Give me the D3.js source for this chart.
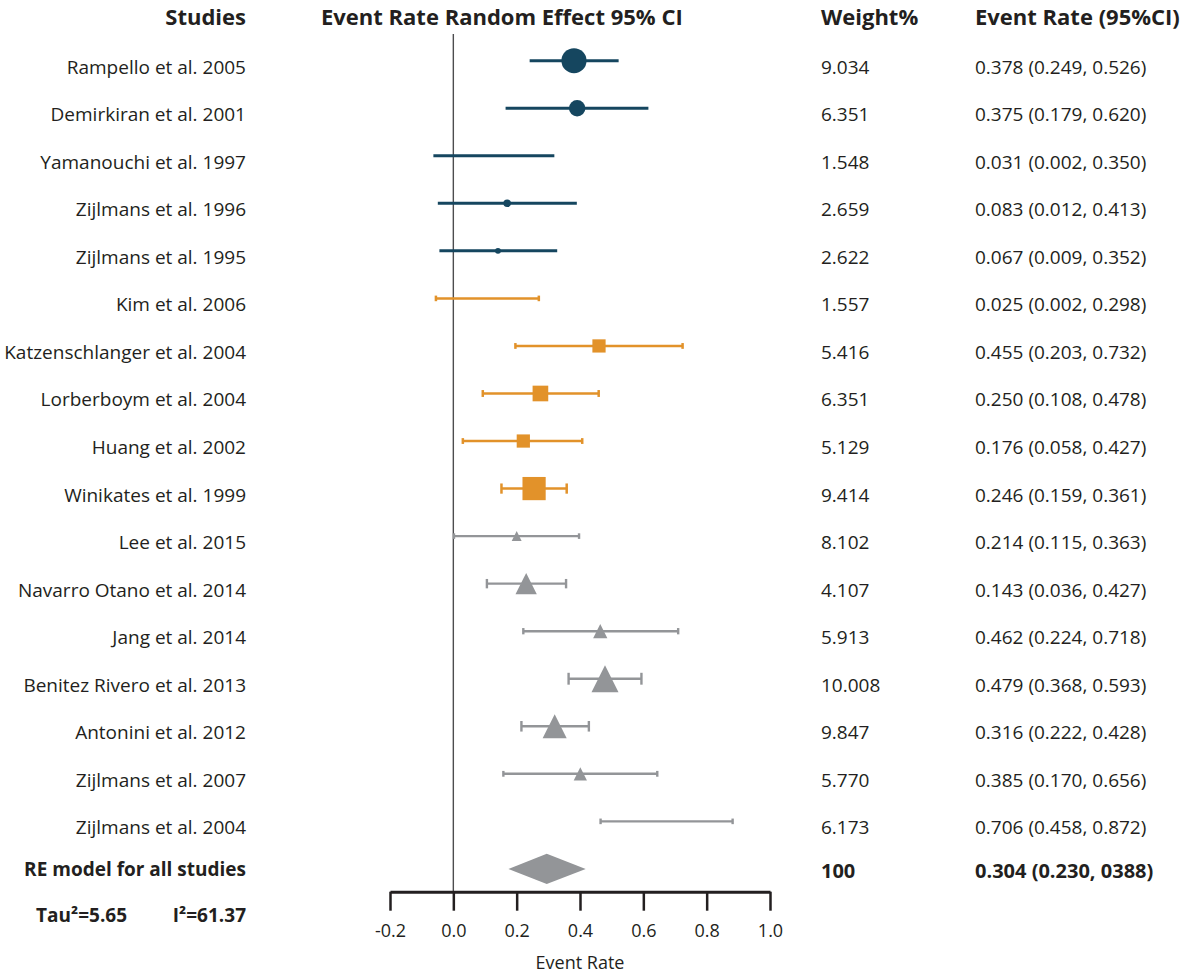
<!DOCTYPE html>
<html>
<head>
<meta charset="utf-8">
<script src="https://cdn.jsdelivr.net/npm/d3@7"></script>
<style>
  body { margin: 0; background: #fff; }
  svg { display: block; font-family: "Open Sans", sans-serif; }
  text { fill: #231f20; }
</style>
</head>
<body>
<div id="chart"></div>
<script>
// 研究名稱
const studies = [
  "Rampello et al. 2005", "Demirkiran et al. 2001", "Yamanouchi et al. 1997",
  "Zijlmans et al. 1996", "Zijlmans et al. 1995", "Kim et al. 2006",
  "Katzenschlanger et al. 2004", "Lorberboym et al. 2004", "Huang et al. 2002",
  "Winikates et al. 1999", "Lee et al. 2015", "Navarro Otano et al. 2014",
  "Jang et al. 2014", "Benitez Rivero et al. 2013", "Antonini et al. 2012",
  "Zijlmans et al. 2007", "Zijlmans et al. 2004"
];
// 分組 (0 = 圓, 1 = 方, 2 = 三角)
const group = [0, 0, 0, 0, 0, 1, 1, 1, 1, 1, 2, 2, 2, 2, 2, 2, 2];

// 圖上畫出的點與區間
const est   = [0.381, 0.391, 0.031, 0.170, 0.141, 0.025, 0.460, 0.275, 0.221, 0.255, 0.200, 0.230, 0.464, 0.479, 0.320, 0.401, 0.706];
const lower = [0.241, 0.165, -0.063, -0.049, -0.044, -0.055, 0.196, 0.093, 0.030, 0.152, 0.002, 0.106, 0.221, 0.364, 0.215, 0.158, 0.465];
const upper = [0.522, 0.616, 0.319, 0.390, 0.328, 0.270, 0.724, 0.459, 0.407, 0.358, 0.397, 0.356, 0.710, 0.594, 0.428, 0.644, 0.882];
// 相對標記大小
const markerSize = [0.93, 0.61, 0, 0.28, 0.22, 0, 0.49, 0.58, 0.49, 0.86, 0.37, 0.79, 0.53, 1.0, 0.89, 0.49, 0];

const weights = ["9.034", "6.351", "1.548", "2.659", "2.622", "1.557", "5.416", "6.351", "5.129",
  "9.414", "8.102", "4.107", "5.913", "10.008", "9.847", "5.770", "6.173"];
const rateText = [
  "0.378 (0.249, 0.526)", "0.375 (0.179, 0.620)", "0.031 (0.002, 0.350)",
  "0.083 (0.012, 0.413)", "0.067 (0.009, 0.352)", "0.025 (0.002, 0.298)",
  "0.455 (0.203, 0.732)", "0.250 (0.108, 0.478)", "0.176 (0.058, 0.427)",
  "0.246 (0.159, 0.361)", "0.214 (0.115, 0.363)", "0.143 (0.036, 0.427)",
  "0.462 (0.224, 0.718)", "0.479 (0.368, 0.593)", "0.316 (0.222, 0.428)",
  "0.385 (0.170, 0.656)", "0.706 (0.458, 0.872)"
];

// 合併結果
const pooledLabel = "RE model for all studies";
const pooledEst = 0.295, pooledLower = 0.174, pooledUpper = 0.418;
const pooledWeight = "100";
const pooledText = "0.304 (0.230, 0388)";
const tauText = "Tau²=5.65";
const i2Text = "I²=61.37";

const tickValues = [-0.2, 0.0, 0.2, 0.4, 0.6, 0.8, 1.0];

/*********************************************************************************/
const width = 1192, height = 974;
const svg = d3.select("#chart").append("svg")
  .attr("width", width)
  .attr("height", height);

const x = d3.scaleLinear().domain([-0.2, 1.0]).range([390, 770]);
const y = d3.scalePoint().domain(d3.range(studies.length + 1)).range([60.7, 868.9]);
const size = d3.scaleLinear().domain([0, 1]).range([0, 27]);
const color = d3.scaleOrdinal().domain([0, 1, 2]).range(["#15465f", "#e2922a", "#939598"]);
const lineWidth = [3, 2.5, 2.4];
const axisY = 891.7;

const rows = studies.map((name, i) => ({
  name, i, g: group[i], est: est[i], lo: lower[i], hi: upper[i],
  s: size(markerSize[i]), w: weights[i], r: rateText[i]
}));

// 標題
const headers = [
  {t: "Studies", x: 246, a: "end"},
  {t: "Event Rate Random Effect 95% CI", x: 321, a: "start"},
  {t: "Weight%", x: 821, a: "start"},
  {t: "Event Rate (95%CI)", x: 975, a: "start"}
];
svg.selectAll(".header")
  .data(headers)
  .enter()
  .append("text")
  .attr("class", "header")
  .attr("x", d => d.x)
  .attr("y", 25)
  .attr("text-anchor", d => d.a)
  .style("font-size", "22px")
  .style("font-weight", "bold")
  .text(d => d.t);

// 0 參考線
svg.append("line")
  .attr("x1", x(0)).attr("x2", x(0))
  .attr("y1", 34).attr("y2", axisY)
  .attr("stroke", "#4d4d4f")
  .attr("stroke-width", 1.4);

// 信賴區間
svg.selectAll(".ci")
  .data(rows)
  .enter()
  .append("line")
  .attr("class", "ci")
  .attr("x1", d => x(d.lo)).attr("x2", d => x(d.hi))
  .attr("y1", d => y(d.i)).attr("y2", d => y(d.i))
  .attr("stroke", d => color(d.g))
  .attr("stroke-width", d => lineWidth[d.g]);

// 端點 (方與三角才有)
const capped = rows.filter(d => d.g > 0);
["lo", "hi"].forEach(k => {
  svg.selectAll(".cap-" + k)
    .data(capped)
    .enter()
    .append("line")
    .attr("class", "cap-" + k)
    .attr("x1", d => x(d[k])).attr("x2", d => x(d[k]))
    .attr("y1", d => y(d.i) - Math.max(2.8, d.s * 0.22))
    .attr("y2", d => y(d.i) + Math.max(2.8, d.s * 0.22))
    .attr("stroke", d => color(d.g))
    .attr("stroke-width", d => lineWidth[d.g]);
});

// 標記
const shapes = rows.filter(d => d.s > 0);
svg.selectAll(".marker")
  .data(shapes)
  .enter()
  .append("path")
  .attr("class", "marker")
  .attr("transform", d => `translate(${x(d.est)},${y(d.i)})`)
  .attr("fill", d => color(d.g))
  .attr("d", d => {
    const h = d.s / 2;
    if (d.g === 0) {
      return `M${-h},0A${h},${h} 0 1,0 ${h},0A${h},${h} 0 1,0 ${-h},0Z`;
    } else if (d.g === 1) {
      return `M${-h},${-h}H${h}V${h}H${-h}Z`;
    }
    return `M0,${-h}L${h},${h}L${-h},${h}Z`;
  });

// 合併菱形
const py = y(studies.length);
svg.append("path")
  .attr("d", `M${x(pooledLower)},${py}L${x(pooledEst)},${py - 15.2}L${x(pooledUpper)},${py}L${x(pooledEst)},${py + 15.2}Z`)
  .attr("fill", "#939598");

// 文字欄
const textCols = [
  {key: "name", x: 246, a: "end"},
  {key: "w", x: 821, a: "start"},
  {key: "r", x: 975, a: "start"}
];
textCols.forEach(c => {
  svg.selectAll(".col-" + c.key)
    .data(rows)
    .enter()
    .append("text")
    .attr("class", "col-" + c.key)
    .attr("x", c.x)
    .attr("y", d => y(d.i) + 13)
    .attr("text-anchor", c.a)
    .style("font-size", "19px")
    .text(d => d[c.key]);
});

const boldRow = [
  {t: pooledLabel, x: 246, y: py + 7, a: "end", f: 19},
  {t: pooledWeight, x: 821, y: py + 9, a: "start", f: 20},
  {t: pooledText, x: 975, y: py + 9, a: "start", f: 20},
  {t: tauText, x: 36, y: 922, a: "start", f: 19},
  {t: i2Text, x: 246, y: 922, a: "end", f: 19}
];
svg.selectAll(".bold")
  .data(boldRow)
  .enter()
  .append("text")
  .attr("class", "bold")
  .attr("x", d => d.x)
  .attr("y", d => d.y)
  .attr("text-anchor", d => d.a)
  .style("font-size", d => d.f + "px")
  .style("font-weight", "bold")
  .text(d => d.t);

// x 軸
const axis = svg.append("g")
  .attr("transform", `translate(0,${axisY})`)
  .call(d3.axisBottom(x)
    .tickValues(tickValues)
    .tickFormat(d => d.toFixed(1))
    .tickSize(19)
    .tickSizeOuter(0)
    .tickPadding(14));
axis.select(".domain").attr("stroke", "#231f20").attr("stroke-width", 3);
axis.selectAll(".tick line").attr("stroke", "#231f20").attr("stroke-width", 2.5);
axis.selectAll(".tick text")
  .style("font-size", "18px")
  .style("font-family", "'Open Sans', sans-serif")
  .attr("fill", "#231f20");

svg.append("text")
  .attr("x", x(0.4))
  .attr("y", 969)
  .attr("text-anchor", "middle")
  .style("font-size", "18px")
  .text("Event Rate");
</script>
</body>
</html>
